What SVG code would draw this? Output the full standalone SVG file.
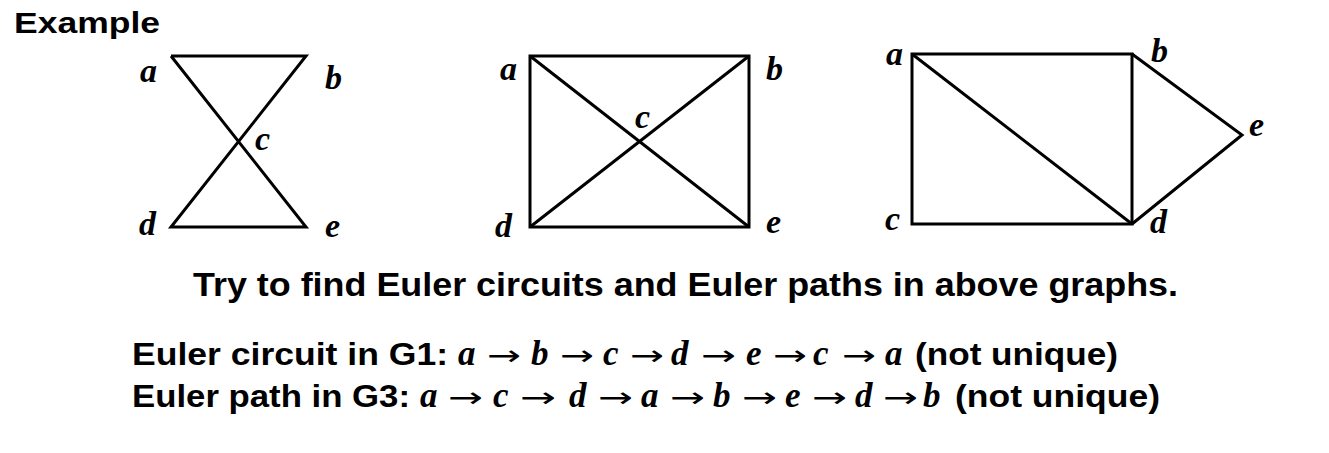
<svg xmlns="http://www.w3.org/2000/svg" width="1329" height="453" viewBox="0 0 1329 453">
<style>
.e{stroke:#000;stroke-width:3;fill:none;stroke-linejoin:miter}
.lb{font-family:"Liberation Serif",serif;font-style:italic;font-weight:bold;font-size:34px;fill:#000}
.h{font-family:"Liberation Sans",Arial,sans-serif;font-weight:bold;fill:#000}
.m{font-family:"Liberation Serif",serif;font-style:italic;font-weight:bold;font-size:35px;fill:#000}
.ar{font-family:"DejaVu Sans",sans-serif;font-size:28px;fill:#000}
</style>
<rect width="1329" height="453" fill="#fff"/>
<text id="title" class="h" x="14" y="33" font-size="30" textLength="146" lengthAdjust="spacingAndGlyphs">Example</text>
<g id="connectors">
<g id="g1-edges">
<polyline class="e" points="171,56 306,56 171,227 306,227 171,56"/>
</g>
<g id="g2-edges">
<rect class="e" x="530" y="56" width="219" height="171"/>
<line class="e" x1="530" y1="56" x2="749" y2="227"/>
<line class="e" x1="749" y1="56" x2="530" y2="227"/>
</g>
<g id="g3-edges">
<rect class="e" x="912" y="54" width="220" height="170"/>
<line class="e" x1="912" y1="54" x2="1132" y2="224"/>
<polyline class="e" points="1132,54 1242,135 1132,224"/>
</g>
</g>
<g id="g1-a"><text class="lb" x="140" y="82">a</text></g>
<g id="g1-b"><text class="lb" x="325" y="89">b</text></g>
<g id="g1-c"><text class="lb" x="255" y="150">c</text></g>
<g id="g1-d"><text class="lb" x="139" y="235">d</text></g>
<g id="g1-e"><text class="lb" x="325" y="237">e</text></g>
<g id="g2-a"><text class="lb" x="500" y="80">a</text></g>
<g id="g2-b"><text class="lb" x="766" y="80">b</text></g>
<g id="g2-c"><text class="lb" x="635" y="128">c</text></g>
<g id="g2-d"><text class="lb" x="495" y="237">d</text></g>
<g id="g2-e"><text class="lb" x="766" y="233">e</text></g>
<g id="g3-a"><text class="lb" x="886" y="65">a</text></g>
<g id="g3-b"><text class="lb" x="1151" y="62">b</text></g>
<g id="g3-c"><text class="lb" x="885" y="230">c</text></g>
<g id="g3-d"><text class="lb" x="1150" y="233">d</text></g>
<g id="g3-e"><text class="lb" x="1249" y="136">e</text></g>
<text id="prompt" class="h" x="193" y="296" font-size="34" textLength="985" lengthAdjust="spacingAndGlyphs">Try to find Euler circuits and Euler paths in above graphs.</text>
<g id="line1">
<text class="h" x="132" y="365" font-size="31" textLength="316" lengthAdjust="spacingAndGlyphs">Euler circuit in G1:</text>
<text class="m" y="365"><tspan x="458">a</tspan><tspan x="531">b</tspan><tspan x="603">c</tspan><tspan x="671">d</tspan><tspan x="746">e</tspan><tspan x="813">c</tspan><tspan x="885">a</tspan></text>
<text class="ar" x="487" y="365" textLength="34" lengthAdjust="spacingAndGlyphs">→</text>
<text class="ar" x="560" y="365" textLength="34" lengthAdjust="spacingAndGlyphs">→</text>
<text class="ar" x="630" y="365" textLength="34" lengthAdjust="spacingAndGlyphs">→</text>
<text class="ar" x="701" y="365" textLength="35" lengthAdjust="spacingAndGlyphs">→</text>
<text class="ar" x="773" y="365" textLength="34" lengthAdjust="spacingAndGlyphs">→</text>
<text class="ar" x="842" y="365" textLength="34" lengthAdjust="spacingAndGlyphs">→</text>
<text class="h" x="915" y="365" font-size="31" textLength="203" lengthAdjust="spacingAndGlyphs">(not unique)</text>
</g>
<g id="line2">
<text class="h" x="132" y="407" font-size="31" textLength="278" lengthAdjust="spacingAndGlyphs">Euler path in G3:</text>
<text class="m" y="407"><tspan x="420">a</tspan><tspan x="493">c</tspan><tspan x="569">d</tspan><tspan x="641">a</tspan><tspan x="713">b</tspan><tspan x="785">e</tspan><tspan x="855">d</tspan><tspan x="923">b</tspan></text>
<text class="ar" x="448" y="407" textLength="35" lengthAdjust="spacingAndGlyphs">→</text>
<text class="ar" x="520" y="407" textLength="36" lengthAdjust="spacingAndGlyphs">→</text>
<text class="ar" x="598" y="407" textLength="35" lengthAdjust="spacingAndGlyphs">→</text>
<text class="ar" x="670" y="407" textLength="35" lengthAdjust="spacingAndGlyphs">→</text>
<text class="ar" x="742" y="407" textLength="35" lengthAdjust="spacingAndGlyphs">→</text>
<text class="ar" x="812" y="407" textLength="35" lengthAdjust="spacingAndGlyphs">→</text>
<text class="ar" x="883" y="407" textLength="35" lengthAdjust="spacingAndGlyphs">→</text>
<text class="h" x="955" y="407" font-size="31" textLength="205" lengthAdjust="spacingAndGlyphs">(not unique)</text>
</g>
</svg>
